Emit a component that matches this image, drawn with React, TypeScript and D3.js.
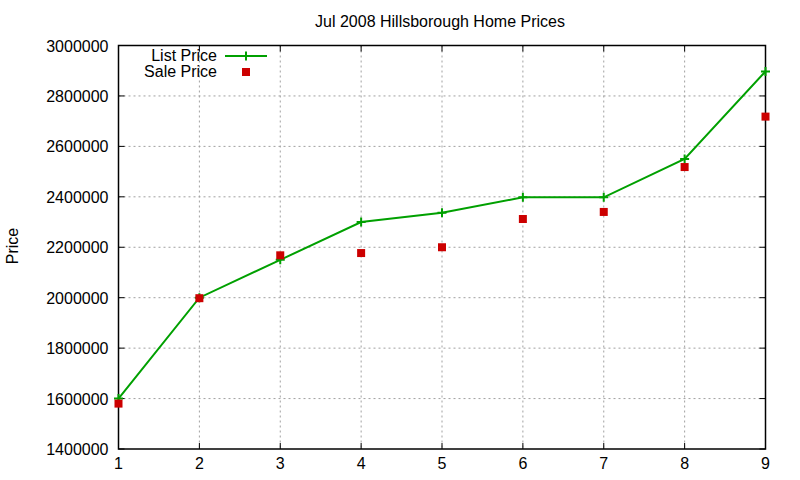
import React, { useEffect, useRef } from "react";
import * as d3 from "d3";

const categories = [1, 2, 3, 4, 5, 6, 7, 8, 9];
const listPrice = [1600000, 2000000, 2150000, 2300000, 2337000, 2398000, 2398000, 2550000, 2897000];
const salePrice = [1580000, 1998000, 2168000, 2177000, 2200000, 2312000, 2340000, 2518000, 2718000];
const yTicks = [1400000, 1600000, 1800000, 2000000, 2200000, 2400000, 2600000, 2800000, 3000000];
const xTicks = [1, 2, 3, 4, 5, 6, 7, 8, 9];

const W = 800;
const H = 480;
const left = 118.5;
const right = 765.5;
const top = 45.5;
const bottom = 449;
const GREEN = "#00a000";
const RED = "#cc0000";
const FONT = "'Liberation Sans', Arial, sans-serif";

export default function App() {
  const ref = useRef<SVGSVGElement>(null);
  useEffect(() => {
    const svg = d3.select(ref.current);
    svg.selectAll("*").remove();
    const x = d3.scaleLinear().domain([1, 9]).range([left, right]);
    const y = d3.scaleLinear().domain([1400000, 3000000]).range([bottom, top]);

    svg.append("rect").attr("width", W).attr("height", H).attr("fill", "#fff");

    // grid
    const g = svg.append("g");
    xTicks.slice(1, -1).forEach((t) => {
      g.append("line").attr("x1", x(t)).attr("x2", x(t)).attr("y1", top).attr("y2", bottom)
        .attr("stroke", "#a0a0a0").attr("stroke-width", 1).attr("stroke-dasharray", "2,3");
    });
    yTicks.slice(1, -1).forEach((t) => {
      g.append("line").attr("x1", left).attr("x2", right).attr("y1", y(t)).attr("y2", y(t))
        .attr("stroke", "#a0a0a0").attr("stroke-width", 1).attr("stroke-dasharray", "2,3");
    });

    // ticks (mirrored, inward)
    const tk = svg.append("g").attr("stroke", "#000").attr("stroke-width", 1);
    yTicks.forEach((t) => {
      tk.append("line").attr("x1", left).attr("x2", left + 6).attr("y1", y(t)).attr("y2", y(t));
      tk.append("line").attr("x1", right).attr("x2", right - 6).attr("y1", y(t)).attr("y2", y(t));
    });
    xTicks.forEach((t) => {
      tk.append("line").attr("x1", x(t)).attr("x2", x(t)).attr("y1", bottom).attr("y2", bottom - 6);
      tk.append("line").attr("x1", x(t)).attr("x2", x(t)).attr("y1", top).attr("y2", top + 6);
    });

    // border
    svg.append("rect").attr("x", left).attr("y", top).attr("width", right - left).attr("height", bottom - top)
      .attr("fill", "none").attr("stroke", "#000").attr("stroke-width", 1.5);

    // tick labels
    yTicks.forEach((t) => {
      svg.append("text").attr("x", left - 10).attr("y", y(t) + 6).attr("text-anchor", "end")
        .attr("font-family", FONT).attr("font-size", 16).attr("fill", "#000").text(String(t));
    });
    xTicks.forEach((t) => {
      svg.append("text").attr("x", x(t)).attr("y", bottom + 20).attr("text-anchor", "middle")
        .attr("font-family", FONT).attr("font-size", 16).attr("fill", "#000").text(String(t));
    });

    // title
    svg.append("text").attr("x", 440).attr("y", 27).attr("text-anchor", "middle")
      .attr("font-family", FONT).attr("font-size", 16).attr("fill", "#000").text("Jul 2008 Hillsborough Home Prices");

    // y label
    svg.append("text").attr("transform", `translate(18,246) rotate(-90)`).attr("text-anchor", "middle")
      .attr("font-family", FONT).attr("font-size", 16).attr("fill", "#000").text("Price");

    // list line
    const line = d3.line<number>().x((_, i) => x(categories[i])).y((d) => y(d));
    svg.append("path").attr("d", line(listPrice)).attr("fill", "none").attr("stroke", GREEN).attr("stroke-width", 2);
    const plus = (cx: number, cy: number) => `M${cx - 4.5},${cy}H${cx + 4.5}M${cx},${cy - 4.5}V${cy + 4.5}`;
    listPrice.forEach((v, i) => {
      svg.append("path").attr("d", plus(x(categories[i]), y(v))).attr("stroke", GREEN).attr("stroke-width", 2);
    });

    // sale points
    salePrice.forEach((v, i) => {
      svg.append("rect").attr("x", x(categories[i]) - 4).attr("y", y(v) - 4).attr("width", 8).attr("height", 8).attr("fill", RED);
    });

    // legend
    svg.append("text").attr("x", 217).attr("y", 61).attr("text-anchor", "end")
      .attr("font-family", FONT).attr("font-size", 16).attr("fill", "#000").text("List Price");
    svg.append("text").attr("x", 217).attr("y", 77).attr("text-anchor", "end")
      .attr("font-family", FONT).attr("font-size", 16).attr("fill", "#000").text("Sale Price");
    svg.append("line").attr("x1", 225).attr("x2", 267).attr("y1", 56).attr("y2", 56).attr("stroke", GREEN).attr("stroke-width", 2);
    svg.append("path").attr("d", plus(246, 56)).attr("stroke", GREEN).attr("stroke-width", 2);
    svg.append("rect").attr("x", 242).attr("y", 68).attr("width", 8).attr("height", 8).attr("fill", RED);
  }, []);
  return <svg ref={ref} width={W} height={H} style={{ position: "absolute", left: 0, top: 0 }} />;
}
